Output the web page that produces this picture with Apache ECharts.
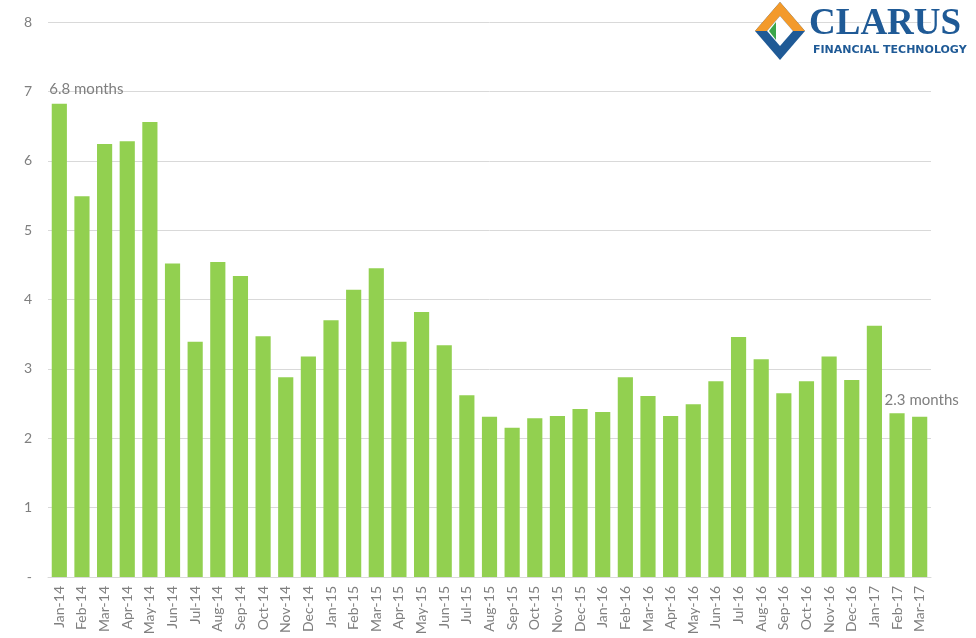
<!DOCTYPE html>
<html><head><meta charset="utf-8">
<script src="https://cdn.jsdelivr.net/npm/echarts@6/dist/echarts.min.js"></script>
<style>html,body{margin:0;padding:0;background:#fff}#c{width:976px;height:638px}</style>
</head><body><div id="c"></div>
<script>
const categories = ["Jan-14","Feb-14","Mar-14","Apr-14","May-14","Jun-14","Jul-14","Aug-14","Sep-14","Oct-14","Nov-14","Dec-14",
"Jan-15","Feb-15","Mar-15","Apr-15","May-15","Jun-15","Jul-15","Aug-15","Sep-15","Oct-15","Nov-15","Dec-15",
"Jan-16","Feb-16","Mar-16","Apr-16","May-16","Jun-16","Jul-16","Aug-16","Sep-16","Oct-16","Nov-16","Dec-16",
"Jan-17","Feb-17","Mar-17"];
const months = [6.82,5.49,6.24,6.28,6.56,4.52,3.39,4.54,4.34,3.47,2.88,3.18,
3.70,4.14,4.45,3.39,3.82,3.34,2.62,2.31,2.15,2.29,2.32,2.42,
2.38,2.88,2.61,2.32,2.49,2.82,3.46,3.14,2.65,2.82,3.18,2.84,
3.62,2.36,2.31];
const annotations = {0: "6.8 months", 38: "2.3 months"};
const yTicks = {min: 0, max: 8, interval: 1};

const font = "Lato, 'Open Sans', sans-serif";
const data = months.map((v, i) => {
  if (annotations[i] === undefined) return v;
  return {
    value: v,
    label: {
      show: true, position: 'top', formatter: annotations[i],
      color: '#7f7f7f', fontSize: 15, fontFamily: font,
      distance: i === 0 ? 7 : 9,
      offset: i === 0 ? [27, 0] : [2, 0]
    }
  };
});

const chart = echarts.init(document.getElementById('c'));
chart.setOption({
  animation: false,
  grid: {left: 48, right: 45, top: 22, bottom: 61},
  xAxis: {
    type: 'category', data: categories,
    axisLine: {lineStyle: {color: '#d9d9d9', width: 1}},
    axisTick: {show: false},
    axisLabel: {rotate: 90, interval: 0, color: '#7f7f7f', fontSize: 14, fontFamily: font, margin: 9}
  },
  yAxis: {
    type: 'value', min: yTicks.min, max: yTicks.max, interval: yTicks.interval,
    axisLine: {show: false}, axisTick: {show: false},
    splitLine: {lineStyle: {color: '#d9d9d9', width: 1}},
    axisLabel: {color: '#7f7f7f', fontSize: 14, fontFamily: font, margin: 16,
      formatter: v => v === 0 ? '-' : String(v)}
  },
  series: [{
    type: 'bar', data: data, barCategoryGap: '33%',
    itemStyle: {color: '#92d050'}
  }],
  graphic: [
    {type: 'polygon', z: 100, shape: {points: [[780,2],[805,31],[780,60],[755,31]]}, style: {fill: '#1f5a96'}},
    {type: 'polygon', z: 101, shape: {points: [[780,2],[805,31],[793,31],[780,16],[767,31],[755,31]]}, style: {fill: '#f39a2b'}},
    {type: 'polygon', z: 102, shape: {points: [[780,16],[793,31],[780,46],[767,31]]}, style: {fill: '#ffffff'}},
    {type: 'polygon', z: 103, shape: {points: [[776,22],[776,40],[769,31]]}, style: {fill: '#3aa64a'}},
    {type: 'text', z: 104, left: 809, top: 6, style: {text: 'CLARUS', fill: '#1f5a96', font: "bold 37px 'Liberation Serif', serif"}},
    {type: 'text', z: 104, left: 813, top: 45, style: {text: 'FINANCIAL TECHNOLOGY', fill: '#1f5a96', font: "bold 11px 'DejaVu Sans', sans-serif"}}
  ]
});
</script></body></html>
